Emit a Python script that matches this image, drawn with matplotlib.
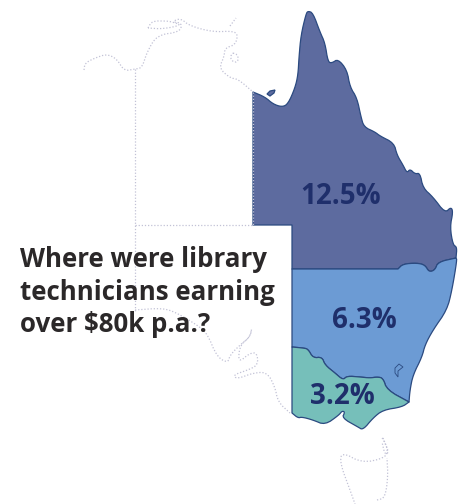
import matplotlib
matplotlib.use("Agg")
import matplotlib.pyplot as plt
from matplotlib.patches import Polygon

# outlines, in image pixels
qld_coast = [(253,92),(265,97),(273,104),(282,107),(288,104),(295,88),(298,75),(299,57),(301,35),(306,14),(308,11),
       (313,13),(320,32),(325,43),(328,62),(332,63),(338,59),(347,70),(350,87),(357,98),(361,117),
       (364,127),(375,132),(380,136),(394,143),(397,155),(403,165),(407,173),(410,169),(415,174),
       (420,173),(423,188),(433,197),(445,213),(451,207),(453,212),(450,227),(453,245),(457,247),
       (456,258)]
qld_nsw_border = [(456,258),(438,262),(435,270),(429,272),(425,265),(417,263),(403,264),(398,269)]
qld_inland = [(292,269),(292,225),(253,225)]
qld_island = [(267,94),(270,91),(275,90),(274,93),(270,96)]
nsw_coast = [(456,258),(457,260),(452,290),(447,310),(433,330),(425,345),(422,357),(413,375),(410,390),(409,402)]
nsw_vic_border = [(409,402),(387,390),(383,378),(377,377),(370,378),(360,377),(347,376),(343,380),(335,373),
       (325,365),(322,357),(313,358),(308,349),(303,348),(292,347)]
nsw_lake = [(403,367),(399,364),(395,368),(395,373),(398,377),(398,371)]
vic_coast = [(409,402),(402,407),(383,410),(373,418),(363,430),(358,427),(342,418),(345,412),(342,411),
       (339,415),(325,425),(313,420),(302,417),(298,418),(292,413)]

# dotted outlines for the states with no figure
wa_nt_coast = [(84,70),(85,63),(95,58),(107,54),(117,59),(124,71),(135,69),(142,68),(147,52),(157,35),
               (180,32),(182,23),(172,22),(180,18),(190,26),(213,32),(233,31),(238,35),(235,45),
               (225,48),(224,57),(219,68),(230,78),(238,79),(253,92)]
tiwi = [(148,28),(152,21),(167,21),(172,22),(182,25),(163,29),(148,28)]
cape = [(230,26),(236,18)]
groote = [(233,53),(238,55),(238,62),(233,62),(230,57),(233,53)]
nt_border = [(135,69),(135,311)]
sa_border = [(135,225),(253,225)]
qld_west = [(253,92),(253,225)]
sa_coast = [(135,310),(163,308),(177,313),(197,325),(207,333),(217,357),(228,363),(230,355),(240,345),
            (250,337),(252,327),(250,337),(240,345),(238,363),(250,353),(257,353),(258,365),(248,370),
            (233,375),(237,379),(253,373),(267,372),(275,387),(278,402),(290,413)]
tas = [(383,438),(388,450),(385,458),(362,463),(342,452),(340,463),(350,490),(355,504)]
tas_east = [(377,500),(385,498),(388,477),(387,458)]
flinders = [(382,438),(383,439),(389,452),(385,455),(382,442)]
dotted = [wa_nt_coast, tiwi, cape, groote, nt_border, sa_border, sa_coast, tas, tas_east, flinders]

pct_labels = ["12.5%", "6.3%", "3.2%"]
pct_x = [341, 364, 342]
pct_y = [196, 320, 396]
title_lines = ["Where were library", "technicians earning", "over $80k p.a.?"]
title_y = [267, 300, 332]

def smooth(pts, rounds=2):
    # corner cutting, keeps the two end points
    for r in range(rounds):
        out = [pts[0]]
        for a, b in zip(pts[:-1], pts[1:]):
            out.append((a[0]*.75 + b[0]*.25, a[1]*.75 + b[1]*.25))
            out.append((a[0]*.25 + b[0]*.75, a[1]*.25 + b[1]*.75))
        out.append(pts[-1])
        pts = out
    return pts

qld = smooth(qld_coast) + smooth(qld_nsw_border) + qld_inland
nsw = [(292,269)] + smooth(qld_nsw_border[::-1]) + smooth(nsw_coast) + smooth(nsw_vic_border)
vic = smooth(nsw_vic_border[::-1]) + smooth(vic_coast)
states = [(qld, "#5d6b9f"), (nsw, "#6c9bd4"), (vic, "#76bfba")]

fig = plt.figure(figsize=(4.65, 5.04), dpi=100)
ax = fig.add_axes([0, 0, 1, 1])
ax.set_xlim(0, 465)
ax.set_ylim(504, 0)
ax.axis("off")

for line in dotted:
    s = smooth(line) if len(line) > 2 else line
    ax.plot([p[0] for p in s], [p[1] for p in s], color="#c2c2d6", lw=0.9,
            ls=(0, (1, 1.5)), zorder=1)

for shape, col in states:
    ax.add_patch(Polygon(shape, closed=True, fc=col, ec="#2b4a80", lw=0.9, joinstyle="round", zorder=2))
ax.add_patch(Polygon(qld_island, closed=True, fc="#5d6b9f", ec="#2b4a80", lw=0.9, zorder=2))
ax.add_patch(Polygon(nsw_lake, closed=True, fc="#6c9bd4", ec="#2b4a80", lw=0.6, zorder=3))
ax.plot([p[0] for p in qld_west], [p[1] for p in qld_west], color="#c2c2d6", lw=0.9,
        ls=(0, (1, 1.5)), zorder=3)

for lab, x, y in zip(pct_labels, pct_x, pct_y):
    ax.text(x, y, lab, color="#1f2f6b", fontsize=20, family="Open Sans", weight="bold",
            ha="center", va="center", zorder=4)

for line, y in zip(title_lines, title_y):
    ax.text(20, y, line, color="#2b2829", fontsize=18.6, family="Open Sans", weight="bold",
            ha="left", va="baseline", zorder=5)

fig.savefig("out.png", dpi=100)
